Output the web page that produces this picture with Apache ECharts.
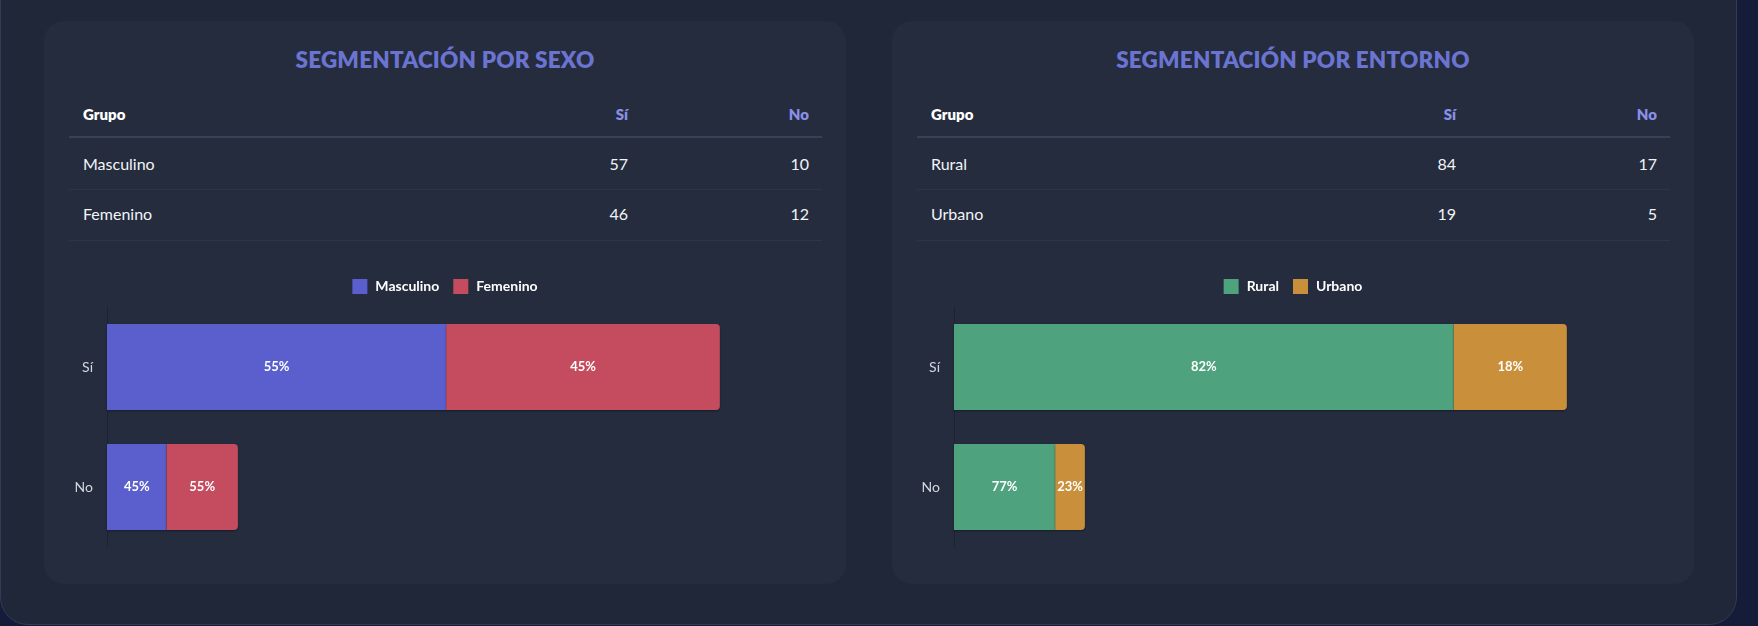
<!DOCTYPE html>
<html>
<head>
<meta charset="utf-8">
<script src="https://cdn.jsdelivr.net/npm/echarts@6/dist/echarts.min.js"></script>
<style>
  html, body { margin:0; padding:0; width:1758px; height:626px; overflow:hidden; background:#151c3a; font-family: Lato, "Noto Sans", sans-serif; }
  #frame { position:absolute; left:0; top:-40px; width:1737px; height:665px; background:#1f2739; border:1px solid #343c52; border-radius:28px; box-sizing:border-box; }
  .card { position:absolute; top:21px; width:802px; height:563px; background:#242c3e; border-radius:20px; }
  .title { position:absolute; left:0; right:0; top:25px; text-align:center; font-weight:800; font-size:22.5px; line-height:28px; color:#6b74d0; letter-spacing:0.2px; }
  .hline { position:absolute; left:25px; width:753px; }
  .cell { position:absolute; line-height:20px; white-space:nowrap; }
  .chart { position:absolute; left:0; top:229px; width:802px; height:334px; }
</style>
</head>
<body>
<div id="frame"></div>
<div class="card" id="card1"><div class="title">SEGMENTACIÓN POR SEXO</div><div id="tbl1"></div><div class="chart" id="chart1"></div></div>
<div class="card" id="card2"><div class="title">SEGMENTACIÓN POR ENTORNO</div><div id="tbl2"></div><div class="chart" id="chart2"></div></div>
<script>
// ---- data ----
const respuestas = ['Sí', 'No'];
const sexoGrupos = ['Masculino', 'Femenino'];
const sexoMasculino = [57, 10];   // [Sí, No]
const sexoFemenino = [46, 12];
const entornoGrupos = ['Rural', 'Urbano'];
const entornoRural = [84, 17];
const entornoUrbano = [19, 5];

// ---- layout ----
document.getElementById('card1').style.left = '44px';
document.getElementById('card2').style.left = '892px';

function buildTable(el, grupos, valores, siRight, noRight) {
  let h = '';
  const headY = 83, rowY = [133, 183];
  h += `<div class="cell" style="left:39px;top:${headY}px;font-weight:800;font-size:15px;color:#fff">Grupo</div>`;
  h += `<div class="cell" style="right:${802-siRight}px;top:${headY}px;font-weight:800;font-size:15px;color:#8890e6">${respuestas[0]}</div>`;
  h += `<div class="cell" style="right:${802-noRight}px;top:${headY}px;font-weight:800;font-size:15px;color:#8890e6">${respuestas[1]}</div>`;
  h += `<div class="hline" style="top:115px;height:2px;background:#394154"></div>`;
  grupos.forEach((g, i) => {
    const y = rowY[i];
    h += `<div class="cell" style="left:39px;top:${y}px;font-size:16px;color:#f2f4f7">${g}</div>`;
    h += `<div class="cell" style="right:${802-siRight}px;top:${y}px;font-size:16px;color:#f2f4f7">${valores[i][0]}</div>`;
    h += `<div class="cell" style="right:${802-noRight}px;top:${y}px;font-size:16px;color:#f2f4f7">${valores[i][1]}</div>`;
    h += `<div class="hline" style="top:${168 + i*51}px;height:1px;background:#2d3547"></div>`;
  });
  el.innerHTML = h;
}
buildTable(document.getElementById('tbl1'), sexoGrupos, [sexoMasculino, sexoFemenino], 584, 765);
buildTable(document.getElementById('tbl2'), entornoGrupos, [entornoRural, entornoUrbano], 564, 765);

function makeChart(el, grupos, a, b, colors, gridLeft) {
  const totals = respuestas.map((_, i) => a[i] + b[i]);
  const chart = echarts.init(el, null, { renderer: 'canvas' });
  const label = {
    show: true, position: 'inside', color: '#fff', fontWeight: 'bold', fontSize: 13,
    fontFamily: 'Lato, sans-serif',
    formatter: p => Math.round(p.value / totals[p.dataIndex] * 100) + '%'
  };
  const shadow = { shadowColor: 'rgba(0,0,0,0.35)', shadowBlur: 2, shadowOffsetY: 1 };
  chart.setOption({
    animation: false,
    legend: {
      top: 24, left: 'center', itemWidth: 15, itemHeight: 15, itemGap: 14, icon: 'rect',
      data: grupos,
      textStyle: { color: '#fff', fontWeight: 'bold', fontSize: 14, fontFamily: 'Lato, sans-serif', padding: [0, 0, 0, 3] }
    },
    grid: { left: gridLeft, top: 57, width: 714, height: 240, containLabel: false },
    xAxis: { type: 'value', min: 0, max: 120, show: false, splitLine: { show: false } },
    yAxis: {
      type: 'category', data: respuestas, inverse: true,
      axisLine: { show: true, lineStyle: { color: '#1b2231', width: 1 } },
      axisTick: { show: false },
      axisLabel: { color: '#d3d7df', fontSize: 14, margin: 14, fontFamily: 'Lato, sans-serif' }
    },
    series: [
      { name: grupos[0], type: 'bar', stack: 't', data: a, barWidth: 86,
        itemStyle: Object.assign({ color: colors[0] }, shadow), label },
      { name: grupos[1], type: 'bar', stack: 't', data: b, barWidth: 86,
        itemStyle: Object.assign({ color: colors[1], borderRadius: [0, 4, 4, 0] }, shadow), label }
    ]
  });
}
makeChart(document.getElementById('chart1'), sexoGrupos, sexoMasculino, sexoFemenino, ['#5b5fce', '#c44c5e'], 63);
makeChart(document.getElementById('chart2'), entornoGrupos, entornoRural, entornoUrbano, ['#4ea27d', '#c98f3b'], 62);
</script>
</body>
</html>
